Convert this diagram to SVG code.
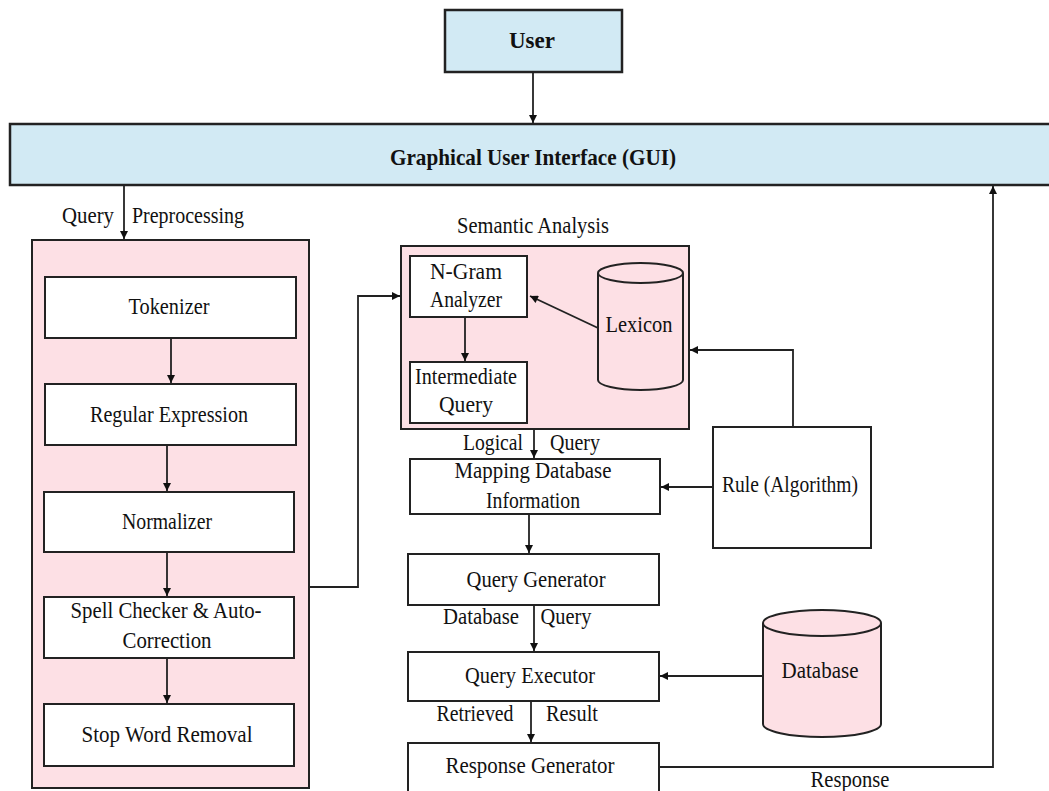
<svg xmlns="http://www.w3.org/2000/svg" width="1049" height="791" viewBox="0 0 1049 791">
  <style>
    .t { font-family: "Liberation Serif", "Times New Roman", serif; font-size: 23px; fill: #111; text-anchor: middle; }
    .b { font-weight: bold; }
    .box { fill: #ffffff; stroke: #222; stroke-width: 2; }
    .blue { fill: #d2eaf4; stroke: #222; stroke-width: 2.5; }
    .pink { fill: #fde0e5; stroke: #222; stroke-width: 2; }
    .ln { fill: none; stroke: #222; stroke-width: 1.8; }
  </style>
  <defs>
    <marker id="arr" viewBox="0 0 10 10" refX="10" refY="5" markerWidth="9" markerHeight="8" markerUnits="userSpaceOnUse" orient="auto">
      <path d="M0,0 L10,5 L0,10 z" fill="#111"/>
    </marker>
  </defs>
  <rect width="1049" height="791" fill="#ffffff"/>

  <g id="user">
    <rect class="blue" x="445" y="10" width="177" height="62"/>
    <text class="t b" x="532" y="48" textLength="46" lengthAdjust="spacingAndGlyphs">User</text>
  </g>

  <g id="gui">
    <rect class="blue" x="10" y="124" width="1045" height="61"/>
    <text class="t b" x="533" y="165" textLength="286" lengthAdjust="spacingAndGlyphs">Graphical User Interface (GUI)</text>
  </g>

  <g id="preprocessing">
    <rect class="pink" x="32" y="240" width="277" height="548"/>
    <text class="t" x="88" y="223" textLength="52" lengthAdjust="spacingAndGlyphs">Query</text>
    <text class="t" x="188" y="223" textLength="112" lengthAdjust="spacingAndGlyphs">Preprocessing</text>
  </g>
  <g id="tokenizer">
    <rect class="box" x="45" y="277" width="251" height="61"/>
    <text class="t" x="169" y="314" textLength="81" lengthAdjust="spacingAndGlyphs">Tokenizer</text>
  </g>
  <g id="regex">
    <rect class="box" x="45" y="384" width="251" height="61"/>
    <text class="t" x="169" y="422" textLength="158" lengthAdjust="spacingAndGlyphs">Regular Expression</text>
  </g>
  <g id="normalizer">
    <rect class="box" x="44" y="492" width="250" height="60"/>
    <text class="t" x="167" y="529" textLength="90" lengthAdjust="spacingAndGlyphs">Normalizer</text>
  </g>
  <g id="spell">
    <rect class="box" x="44" y="597" width="250" height="61"/>
    <text class="t" x="166" y="618" textLength="191" lengthAdjust="spacingAndGlyphs">Spell Checker &amp; Auto-</text>
    <text class="t" x="167" y="648" textLength="89" lengthAdjust="spacingAndGlyphs">Correction</text>
  </g>
  <g id="stopword">
    <rect class="box" x="44" y="704" width="250" height="62"/>
    <text class="t" x="167" y="742" textLength="171" lengthAdjust="spacingAndGlyphs">Stop Word Removal</text>
  </g>

  <g id="semantic">
    <rect class="pink" x="401" y="246" width="288" height="183"/>
    <text class="t" x="533" y="233" textLength="152" lengthAdjust="spacingAndGlyphs">Semantic  Analysis</text>
  </g>
  <g id="ngram">
    <rect class="box" x="410" y="256" width="117" height="61"/>
    <text class="t" x="466" y="279" textLength="72" lengthAdjust="spacingAndGlyphs">N-Gram</text>
    <text class="t" x="466" y="307" textLength="72" lengthAdjust="spacingAndGlyphs">Analyzer</text>
  </g>
  <g id="intermediate">
    <rect class="box" x="410" y="362" width="117" height="61"/>
    <text class="t" x="466" y="384" textLength="102" lengthAdjust="spacingAndGlyphs">Intermediate</text>
    <text class="t" x="466" y="412" textLength="54" lengthAdjust="spacingAndGlyphs">Query</text>
  </g>
  <g id="lexicon">
    <path class="pink" d="M598,273 L598,380 A42.5,10 0 0 0 683,380 L683,273"/>
    <ellipse class="pink" cx="640.5" cy="273" rx="42.5" ry="10"/>
    <text class="t" x="639" y="332" textLength="67" lengthAdjust="spacingAndGlyphs">Lexicon</text>
  </g>

  <g id="mapping">
    <rect class="box" x="410" y="459" width="250" height="55"/>
    <text class="t" x="533" y="478" textLength="157" lengthAdjust="spacingAndGlyphs">Mapping Database</text>
    <text class="t" x="533" y="508" textLength="94" lengthAdjust="spacingAndGlyphs">Information</text>
  </g>
  <g id="rule">
    <rect class="box" x="713" y="427" width="158" height="121"/>
    <text class="t" x="790" y="492" textLength="136" lengthAdjust="spacingAndGlyphs">Rule (Algorithm)</text>
  </g>
  <g id="querygen">
    <rect class="box" x="408" y="554" width="251" height="51"/>
    <text class="t" x="536" y="587" textLength="139" lengthAdjust="spacingAndGlyphs">Query Generator</text>
  </g>
  <g id="queryexec">
    <rect class="box" x="408" y="652" width="251" height="49"/>
    <text class="t" x="530" y="683" textLength="130" lengthAdjust="spacingAndGlyphs">Query Executor</text>
  </g>
  <g id="database">
    <path class="pink" d="M763,623 L763,724 A59,13 0 0 0 881,724 L881,623"/>
    <ellipse class="pink" cx="822" cy="623" rx="59" ry="13"/>
    <text class="t" x="820" y="678" textLength="77" lengthAdjust="spacingAndGlyphs">Database</text>
  </g>
  <g id="respgen">
    <rect class="box" x="408" y="743" width="251" height="52"/>
    <text class="t" x="530" y="773" textLength="169" lengthAdjust="spacingAndGlyphs">Response Generator</text>
  </g>

  <g id="connectors">
    <line class="ln" x1="533" y1="72" x2="533" y2="123" marker-end="url(#arr)"/>
    <line class="ln" x1="124" y1="185" x2="124" y2="239" marker-end="url(#arr)"/>
    <line class="ln" x1="171" y1="338" x2="171" y2="383" marker-end="url(#arr)"/>
    <line class="ln" x1="167" y1="445" x2="167" y2="491" marker-end="url(#arr)"/>
    <line class="ln" x1="167" y1="552" x2="167" y2="596" marker-end="url(#arr)"/>
    <line class="ln" x1="167" y1="658" x2="167" y2="703" marker-end="url(#arr)"/>
    <polyline class="ln" points="309,587 358,587 358,296 400,296" marker-end="url(#arr)"/>
    <line class="ln" x1="465" y1="317" x2="465" y2="361" marker-end="url(#arr)"/>
    <line class="ln" x1="598" y1="328" x2="530" y2="296" marker-end="url(#arr)"/>
    <polyline class="ln" points="793,427 793,350 690,350" marker-end="url(#arr)"/>
    <line class="ln" x1="534" y1="429" x2="534" y2="458" marker-end="url(#arr)"/>
    <line class="ln" x1="712" y1="487" x2="661" y2="487" marker-end="url(#arr)"/>
    <line class="ln" x1="529" y1="514" x2="529" y2="553" marker-end="url(#arr)"/>
    <line class="ln" x1="534" y1="605" x2="534" y2="651" marker-end="url(#arr)"/>
    <line class="ln" x1="763" y1="676" x2="660" y2="676" marker-end="url(#arr)"/>
    <line class="ln" x1="531" y1="701" x2="531" y2="742" marker-end="url(#arr)"/>
    <polyline class="ln" points="659,767 993,767 993,186" marker-end="url(#arr)"/>
    <text class="t" x="493" y="450" textLength="60" lengthAdjust="spacingAndGlyphs">Logical</text>
    <text class="t" x="575" y="450" textLength="50" lengthAdjust="spacingAndGlyphs">Query</text>
    <text class="t" x="481" y="624" textLength="76" lengthAdjust="spacingAndGlyphs">Database</text>
    <text class="t" x="566" y="624" textLength="51" lengthAdjust="spacingAndGlyphs">Query</text>
    <text class="t" x="475" y="721" textLength="77" lengthAdjust="spacingAndGlyphs">Retrieved</text>
    <text class="t" x="572" y="721" textLength="52" lengthAdjust="spacingAndGlyphs">Result</text>
    <text class="t" x="850" y="787" textLength="79" lengthAdjust="spacingAndGlyphs">Response</text>
  </g>
</svg>
